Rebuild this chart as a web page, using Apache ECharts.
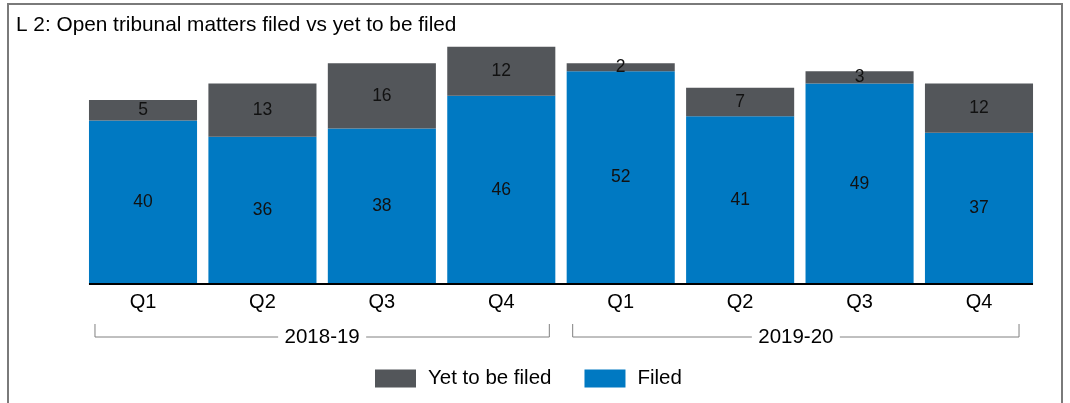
<!DOCTYPE html>
<html>
<head>
<meta charset="utf-8">
<title>Open tribunal matters filed vs yet to be filed</title>
<script src="https://cdn.jsdelivr.net/npm/echarts@6/dist/echarts.min.js"></script>
<style>
  html, body { margin: 0; padding: 0; background: #fff; }
  #frame {
    position: absolute; left: 7px; top: 3px; width: 1056px; height: 410px;
    border: 2px solid #7a7a7a; border-bottom: none; box-sizing: border-box;
  }
  #chart { position: absolute; left: 0; top: 0; width: 1070px; height: 403px; }
</style>
</head>
<body>
<div id="frame"></div>
<div id="chart"></div>
<script>
// Quarters and the financial years they belong to
const quarters = ['Q1', 'Q2', 'Q3', 'Q4', 'Q1', 'Q2', 'Q3', 'Q4'];
const years = ['2018-19', '2019-20'];
const quartersPerYear = 4;

// Open tribunal matters per quarter
const filed = [40, 36, 38, 46, 52, 41, 49, 37];
const yetToBeFiled = [5, 13, 16, 12, 2, 7, 3, 12];

const FONT = '"Liberation Sans", Arial, sans-serif';
const BLUE = '#0079C2';
const GREY = '#53565A';
const BAR_RATIO = 0.905;

const chart = echarts.init(document.getElementById('chart'), null, { renderer: 'canvas' });

const labelStyle = {
  show: true,
  position: 'inside',
  color: '#111',
  fontFamily: FONT,
  fontSize: 17.5
};

chart.setOption({
  animation: false,
  title: {
    text: 'L 2: Open tribunal matters filed vs yet to be filed',
    left: 11, top: 10,
    textStyle: { fontFamily: FONT, fontSize: 20.8, fontWeight: 'normal', color: '#000' }
  },
  legend: {
    top: 368,
    left: 375,
    padding: 0,
    icon: 'rect',
    itemWidth: 41, itemHeight: 18, itemGap: 33,
    textStyle: { fontFamily: FONT, fontSize: 20.5, color: '#000', padding: [0, 0, 0, 7] },
    data: ['Yet to be filed', 'Filed']
  },
  grid: { left: 83.3, right: 31.3, top: 38.6, bottom: 119 },
  xAxis: {
    type: 'category',
    data: quarters,
    axisLine: { show: false },
    axisTick: { alignWithLabel: true, length: 5, lineStyle: { color: '#555' } },
    axisLabel: { fontFamily: FONT, fontSize: 20, color: '#000', margin: 8 }
  },
  yAxis: {
    type: 'value', min: 0, max: 60, show: false,
    splitLine: { show: false }
  },
  series: [
    {
      name: 'Filed', type: 'bar', stack: 'total',
      data: filed, barWidth: (BAR_RATIO * 100) + '%',
      itemStyle: { color: BLUE },
      label: labelStyle
    },
    {
      name: 'Yet to be filed', type: 'bar', stack: 'total',
      data: yetToBeFiled, barWidth: (BAR_RATIO * 100) + '%',
      itemStyle: { color: GREY },
      label: labelStyle
    }
  ]
});

// Baseline spanning the bars, plus year brackets under the quarter labels
function drawAnnotations() {
  const px = (i) => chart.convertToPixel({ xAxisIndex: 0 }, i);
  const baseY = chart.convertToPixel({ yAxisIndex: 0 }, 0);
  const bandWidth = px(1) - px(0);
  const halfBar = bandWidth * BAR_RATIO / 2;
  const elements = [{
    type: 'line', z: 10,
    shape: { x1: px(0) - halfBar, y1: baseY, x2: px(quarters.length - 1) + halfBar, y2: baseY },
    style: { stroke: '#000', lineWidth: 2 }
  }];
  const lineY = 337, tickTop = 324;
  const insetLeft = 6, insetRight = [6, 14];
  years.forEach((yr, i) => {
    const first = i * quartersPerYear;
    const last = first + quartersPerYear - 1;
    const x0 = px(first) - halfBar + insetLeft;
    const x1 = px(last) + halfBar - insetRight[i];
    const mid = (x0 + x1) / 2;
    const half = 44;
    const stroke = { stroke: '#808080', lineWidth: 1 };
    elements.push(
      { type: 'polyline', shape: { points: [[x0, tickTop], [x0, lineY], [mid - half, lineY]] }, style: Object.assign({ fill: null }, stroke) },
      { type: 'polyline', shape: { points: [[mid + half, lineY], [x1, lineY], [x1, tickTop]] }, style: Object.assign({ fill: null }, stroke) },
      { type: 'text', x: mid, y: lineY, style: { text: yr, font: '20.5px ' + FONT, fill: '#000', align: 'center', verticalAlign: 'middle' } }
    );
  });
  chart.setOption({ graphic: { elements: elements } });
}
drawAnnotations();
</script>
</body>
</html>
